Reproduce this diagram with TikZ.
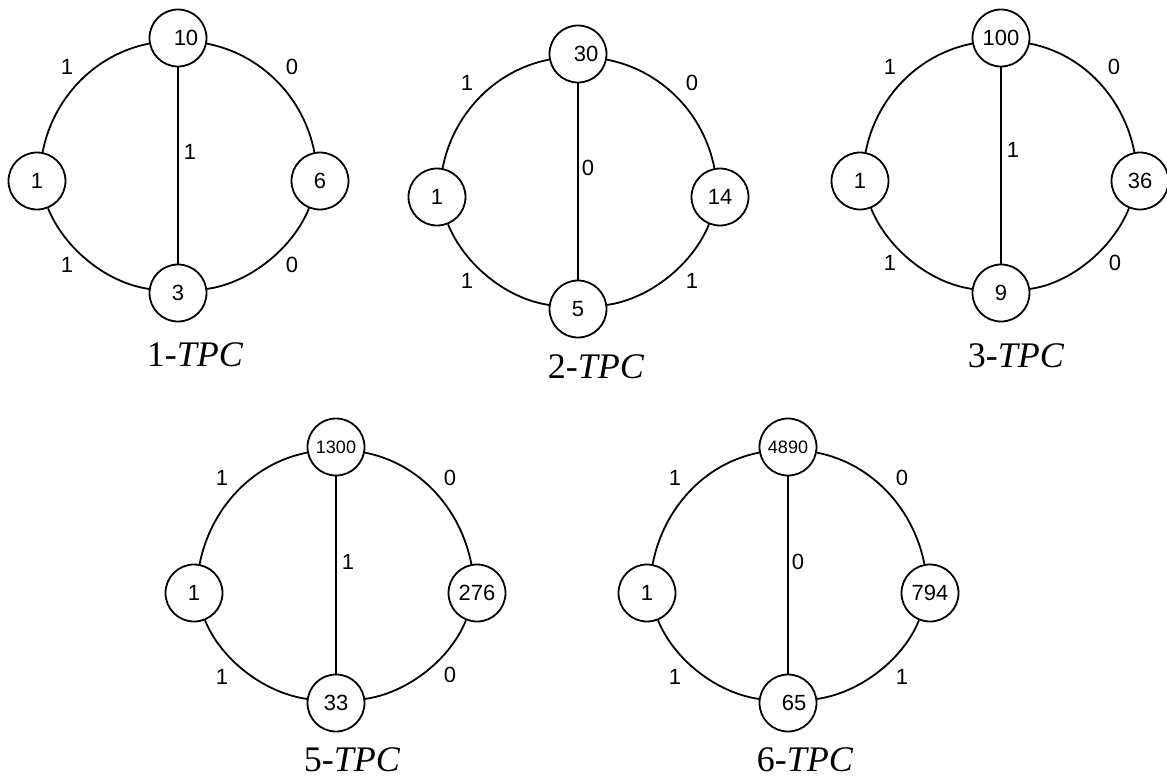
\documentclass[tikz,border=0pt]{standalone}
\usepackage{fontspec}
\setmainfont{Liberation Serif}
\newfontfamily\numfont{Liberation Sans}
\tikzset{
  vtx/.style={circle,draw,line width=0.9pt,minimum size=28.5pt,inner sep=0pt,font=\numfont\fontsize{11}{13}\selectfont},
  bigvtx/.style={vtx,font=\numfont\fontsize{9}{10}\selectfont},
  conn/.style={line width=0.9pt},
  ul/.style={out=191,in=79,looseness=0.93},
  ur/.style={out=-11,in=101,looseness=0.93},
  ll/.style={out=-68,in=172,looseness=0.85},
  lr/.style={out=-112,in=8,looseness=0.85},
  lbl/.style={font=\numfont\fontsize{11}{13}\selectfont,inner sep=0pt},
  ttl/.style={font=\fontsize{18}{20}\selectfont,inner sep=0pt}
}
\begin{document}
\begin{tikzpicture}[x=0.5pt,y=0.5pt]
\useasboundingbox (0,0) rectangle (1167,-782);

% ---------- 1-TPC ----------
\begin{scope}[shift={(178,-38)}]
\node[vtx] (aT) at (0,0) {\hspace{8pt}10};
\node[vtx] (aL) at (-141,-143) {1};
\node[vtx] (aR) at (142,-143) {6};
\node[vtx] (aB) at (0,-255) {3};
\draw[conn] (aT) to[ul] (aL);
\draw[conn] (aL) to[ll] (aB);
\draw[conn] (aT) to[ur] (aR);
\draw[conn] (aR) to[lr] (aB);
\draw[conn] (aT) -- (aB);
\node[lbl] (aUL) at (-111,-29) {1};
\node[lbl] (aUR) at (114,-29) {0};
\node[lbl] (aM) at (12,-114) {1};
\node[lbl] (aLL) at (-111,-227) {1};
\node[lbl] (aLR) at (114,-227) {0};
\node[ttl] (aN) at (17,-317) {1-\textit{TPC}};
\end{scope}

% ---------- 2-TPC ----------
\begin{scope}[shift={(578,-54)}]
\node[vtx] (bT) at (0,0) {\hspace{8pt}30};
\node[vtx] (bL) at (-141,-143) {1};
\node[vtx] (bR) at (142,-143) {14};
\node[vtx] (bB) at (0,-255) {5};
\draw[conn] (bT) to[ul] (bL);
\draw[conn] (bL) to[ll] (bB);
\draw[conn] (bT) to[ur] (bR);
\draw[conn] (bR) to[lr] (bB);
\draw[conn] (bT) -- (bB);
\node[lbl] (bUL) at (-111,-29) {1};
\node[lbl] (bUR) at (114,-29) {0};
\node[lbl] (bM) at (10,-114) {0};
\node[lbl] (bLL) at (-111,-227) {1};
\node[lbl] (bLR) at (114,-227) {1};
\node[ttl] (bN) at (18,-313) {2-\textit{TPC}};
\end{scope}

% ---------- 3-TPC ----------
\begin{scope}[shift={(1001,-38)}]
\node[vtx] (cT) at (0,0) {100};
\node[vtx] (cL) at (-141,-143) {1};
\node[vtx] (cR) at (139,-143) {36};
\node[vtx] (cB) at (0,-255) {9};
\draw[conn] (cT) to[ul] (cL);
\draw[conn] (cL) to[ll] (cB);
\draw[conn] (cT) to[ur] (cR);
\draw[conn] (cR) to[lr] (cB);
\draw[conn] (cT) -- (cB);
\node[lbl] (cUL) at (-111,-29) {1};
\node[lbl] (cUR) at (113,-29) {0};
\node[lbl] (cM) at (12,-112) {1};
\node[lbl] (cLL) at (-111,-225) {1};
\node[lbl] (cLR) at (114,-225) {0};
\node[ttl] (cN) at (15,-318) {3-\textit{TPC}};
\end{scope}

% ---------- 5-TPC ----------
\begin{scope}[shift={(336,-447)}]
\node[bigvtx] (dT) at (0,0) {1300};
\node[vtx] (dL) at (-142,-146) {1};
\node[vtx] (dR) at (141,-146) {276};
\node[vtx] (dB) at (0,-256) {33};
\draw[conn] (dT) to[ul] (dL);
\draw[conn] (dL) to[ll] (dB);
\draw[conn] (dT) to[ur] (dR);
\draw[conn] (dR) to[lr] (dB);
\draw[conn] (dT) -- (dB);
\node[lbl] (dUL) at (-114,-31) {1};
\node[lbl] (dUR) at (114,-31) {0};
\node[lbl] (dM) at (12,-115) {1};
\node[lbl] (dLL) at (-114,-230) {1};
\node[lbl] (dLR) at (114,-228) {0};
\node[ttl] (dN) at (16,-313) {5-\textit{TPC}};
\end{scope}

% ---------- 6-TPC ----------
\begin{scope}[shift={(788,-447)}]
\node[bigvtx] (eT) at (0,0) {4890};
\node[vtx] (eL) at (-141,-146) {1};
\node[vtx] (eR) at (142,-146) {794};
\node[vtx] (eB) at (0,-256) {\hspace{6pt}65};
\draw[conn] (eT) to[ul] (eL);
\draw[conn] (eL) to[ll] (eB);
\draw[conn] (eT) to[ur] (eR);
\draw[conn] (eR) to[lr] (eB);
\draw[conn] (eT) -- (eB);
\node[lbl] (eUL) at (-113,-31) {1};
\node[lbl] (eUR) at (114,-31) {0};
\node[lbl] (eM) at (10,-115) {0};
\node[lbl] (eLL) at (-113,-230) {1};
\node[lbl] (eLR) at (114,-230) {1};
\node[ttl] (eN) at (17,-313) {6-\textit{TPC}};
\end{scope}
\end{tikzpicture}
\end{document}
